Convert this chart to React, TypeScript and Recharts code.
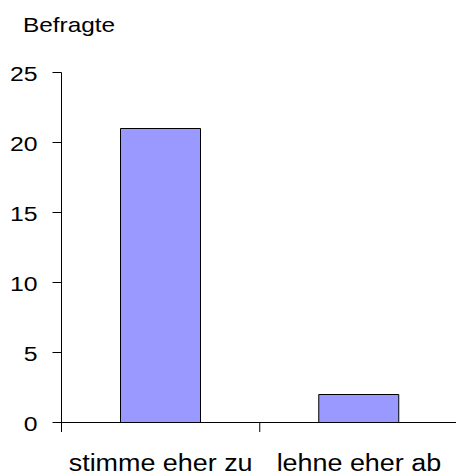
import { BarChart, Bar, XAxis, YAxis } from "recharts";

const categories = ["stimme eher zu", "lehne eher ab"];
const respondents = [21, 2];
const yTicks = [0, 5, 10, 15, 20, 25];
const yTitle = "Befragte";

const data = categories.map((name, i) => ({ name, value: respondents[i] }));

const FONT = "'Liberation Sans', Arial, sans-serif";

function YTick(props: any) {
  const { x, y, payload } = props;
  return (
    <text
      transform={`translate(${x},${y + 8.5}) scale(1.18,1)`}
      textAnchor="end"
      fontFamily={FONT}
      fontSize={21}
      fill="#000"
    >
      {payload.value}
    </text>
  );
}

function XTick(props: any) {
  const { x, y, payload, width, visibleTicksCount, index } = props;
  const band = width && visibleTicksCount ? width / visibleTicksCount : (payload.offset || 0) * 2;
  const left = x - band / 2;
  const right = x + band / 2;
  return (
    <g>
      <line x1={left} x2={left} y1={y} y2={y + 9.5} stroke="#000" />
      {index === visibleTicksCount - 1 && (
        <line x1={right} x2={right} y1={y} y2={y + 9.5} stroke="#000" />
      )}
      <text
        transform={`translate(${x},${y + 48}) scale(1.17,1)`}
        textAnchor="middle"
        fontFamily={FONT}
        fontSize={23}
        fill="#000"
      >
        {payload.value}
      </text>
    </g>
  );
}

export default function App() {
  return (
    <div
      style={{
        position: "absolute",
        left: 0,
        top: 0,
        width: 456,
        height: 476,
        overflow: "hidden",
        background: "#fff",
      }}
    >
      <BarChart
        width={458}
        height={476}
        data={data}
        margin={{ top: 72.5, right: 0, bottom: 0, left: 0 }}
      >
        <XAxis
          dataKey="name"
          interval={0}
          height={53.5}
          tickSize={0}
          tickMargin={0}
          tickLine={false}
          axisLine={{ stroke: "#000" }}
          tick={<XTick />}
        />
        <YAxis
          width={61.5}
          domain={[0, 25]}
          ticks={yTicks}
          interval={0}
          tickSize={9}
          tickMargin={15}
          tickLine={{ stroke: "#000" }}
          axisLine={{ stroke: "#000" }}
          tick={<YTick />}
          label={{
            content: () => (
              <text
                transform="translate(23,31.7) scale(1.16,1)"
                fontFamily={FONT}
                fontSize={21}
                fill="#000"
              >
                {yTitle}
              </text>
            ),
          }}
        />
        <Bar
          dataKey="value"
          barSize={80}
          fill="#9999FF"
          stroke="#000"
          strokeWidth={1}
          isAnimationActive={false}
        />
      </BarChart>
    </div>
  );
}
